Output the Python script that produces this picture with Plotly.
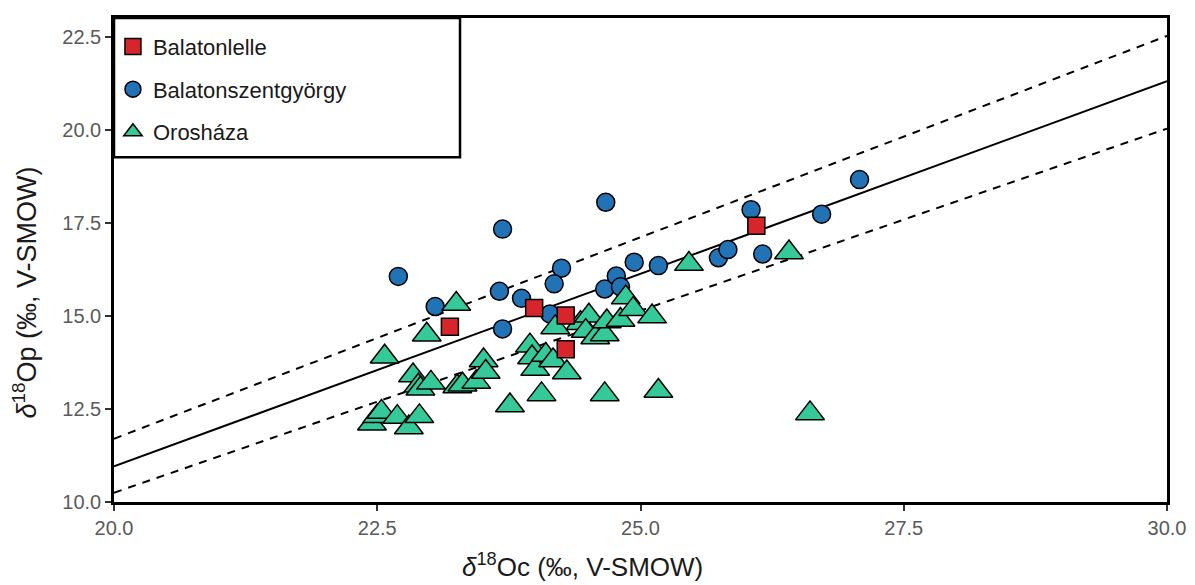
import plotly.graph_objects as go

# ---- data ----
lelle_x = [23.19, 23.99, 24.29, 24.29, 26.10]
lelle_y = [14.71, 15.21, 15.01, 14.10, 17.42]

szent_x = [22.70, 23.05, 23.69, 23.66, 23.69, 23.87, 24.25, 24.18, 24.14, 24.67,
           24.66, 24.77, 24.81, 24.94, 25.17, 25.74, 25.83, 26.05, 26.16, 26.72, 27.08]
szent_y = [16.06, 15.25, 17.33, 15.66, 14.65, 15.47, 16.28, 15.86, 15.05, 18.05,
           15.72, 16.07, 15.78, 16.44, 16.35, 16.56, 16.78, 17.85, 16.66, 17.73, 18.66]

oros_x = [22.45, 22.50, 22.54, 22.69, 22.80, 22.90, 22.57, 22.84, 22.89, 22.91,
          23.01, 22.97, 23.25, 23.26, 23.31, 23.44, 23.51, 23.53, 23.76, 23.95,
          23.97, 24.00, 24.10, 24.17, 24.06, 24.30, 24.19, 24.43, 24.51, 24.48,
          24.57, 24.66, 24.68, 24.81, 24.86, 24.93, 25.11, 24.66, 25.17, 25.46,
          26.41, 26.61]
oros_y = [12.10, 12.30, 12.42, 12.28, 12.00, 12.30, 13.90, 13.40, 13.12, 13.04,
          13.20, 14.49, 15.32, 13.10, 13.15, 13.22, 13.80, 13.49, 12.59, 14.20,
          13.88, 13.57, 13.95, 13.80, 12.89, 13.48, 14.69, 14.80, 15.00, 14.59,
          14.42, 14.50, 14.85, 14.89, 15.49, 15.18, 14.98, 12.89, 12.98, 16.39,
          16.70, 12.38]

line_x = [20.0, 30.0]
fit_y = [10.96, 21.30]
upper_y = [11.70, 22.52]
lower_y = [10.25, 20.03]

x_ticks = [20.0, 22.5, 25.0, 27.5, 30.0]
y_ticks = [10.0, 12.5, 15.0, 17.5, 20.0, 22.5]

x_title = "<i>δ</i><sup>18</sup>Oc (‰, V-SMOW)"
y_title = "<i>δ</i><sup>18</sup>Op (‰, V-SMOW)"

RED = "#D7262B"
BLUE = "#2273B5"
GREEN = "#35C898"
FONT = "Liberation Sans, Arial, sans-serif"

fig = go.Figure()

# lines
fig.add_trace(go.Scatter(x=line_x, y=upper_y, mode="lines", showlegend=False,
                         line=dict(color="black", width=2, dash="8px,7px"), hoverinfo="skip"))
fig.add_trace(go.Scatter(x=line_x, y=lower_y, mode="lines", showlegend=False,
                         line=dict(color="black", width=2, dash="8px,7px"), hoverinfo="skip"))
fig.add_trace(go.Scatter(x=line_x, y=fit_y, mode="lines", showlegend=False,
                         line=dict(color="black", width=2), hoverinfo="skip"))

mline = dict(color="black", width=1.5)
fig.add_trace(go.Scatter(x=szent_x, y=szent_y, mode="markers", name="Balatonszentgyörgy",
                         legendrank=2, legendgroup="b",
                         marker=dict(symbol="circle", size=18, color=BLUE, line=mline)))
fig.add_trace(go.Scatter(x=oros_x, y=oros_y, mode="markers", name="Orosháza",
                         legendrank=3, legendgroup="c",
                         marker=dict(symbol="triangle-up", size=25, color=GREEN, line=mline)))
fig.add_trace(go.Scatter(x=lelle_x, y=lelle_y, mode="markers", name="Balatonlelle",
                         legendrank=1, legendgroup="a",
                         marker=dict(symbol="square", size=17, color=RED, line=mline)))

axis_common = dict(
    showgrid=False, zeroline=False,
    showline=True, linecolor="black", linewidth=2.5, mirror=True,
    ticks="outside", ticklen=6, tickwidth=2, tickcolor="#333333",
    tickfont=dict(family=FONT, size=20, color="#5a5a5a"),
)

fig.update_xaxes(range=[20, 30], tickvals=x_ticks, ticktext=[f"{v:.1f}" for v in x_ticks],
                 **axis_common)
fig.update_yaxes(range=[10, 23], tickvals=y_ticks, ticktext=[f"{v:.1f}" for v in y_ticks],
                 **axis_common)

# axis titles
fig.add_annotation(text=x_title, xref="paper", yref="paper", x=0.445, y=-0.131,
                   xanchor="center", yanchor="middle", showarrow=False,
                   font=dict(family=FONT, size=26, color="#1a1a1a"))
fig.add_annotation(text=y_title, xref="paper", yref="paper", x=-0.0845, y=0.433,
                   xanchor="center", yanchor="middle", showarrow=False, textangle=-90,
                   font=dict(family=FONT, size=27, color="#1a1a1a"))

# legend box frame
fig.add_shape(type="rect", xref="paper", yref="paper", x0=0, x1=0.3286, y0=0.7125, y1=1.0,
              line=dict(color="black", width=2.5), fillcolor="white", layer="above")

fig.update_layout(
    width=1195, height=585,
    margin=dict(l=106, r=36, t=7, b=91),
    paper_bgcolor="white", plot_bgcolor="white",
    legend=dict(x=-0.001, y=0.984, xanchor="left", yanchor="top",
                bgcolor="rgba(0,0,0,0)", borderwidth=0,
                font=dict(family=FONT, size=22, color="#1a1a1a"),
                tracegroupgap=11, itemsizing="trace"),
)

fig.write_html("out.html")
